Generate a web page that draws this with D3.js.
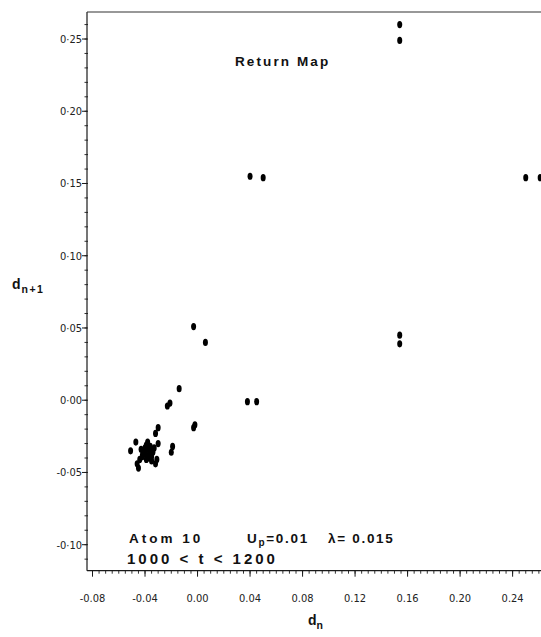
<!DOCTYPE html>
<html>
<head>
<meta charset="utf-8">
<script src="https://cdn.jsdelivr.net/npm/d3@7"></script>
<style>
  body { margin: 0; background: #fff; overflow: hidden; }
  svg { display: block; }
  .tick-label { font-family: "DejaVu Sans Condensed", "Liberation Sans Narrow", sans-serif; font-stretch: condensed; font-size: 11px; fill: #222; }
  .note { font-family: "Liberation Sans", Arial, sans-serif; font-weight: bold; fill: #111; }
</style>
</head>
<body>
<svg id="chart"></svg>
<script>
// return map points (d_n, d_n+1)
const dn = [
  0.154, 0.154, 0.040, 0.050, 0.250, 0.261, 0.154, 0.154,
  -0.003, 0.006, 0.038, 0.045, -0.014, -0.023, -0.021, -0.002, -0.003,
  -0.030, -0.032, -0.019, -0.020,
  -0.051, -0.047, -0.038, -0.030, -0.045, -0.046, -0.032, -0.031, -0.042, -0.040,
  -0.036, -0.043, -0.039, -0.035, -0.044, -0.039, -0.033, -0.036, -0.041, -0.037,
  -0.038, -0.040, -0.034, -0.042, -0.037, -0.035
];
const dnPlus1 = [
  0.260, 0.249, 0.155, 0.154, 0.154, 0.154, 0.045, 0.039,
  0.051, 0.040, -0.001, -0.001, 0.008, -0.004, -0.002, -0.017, -0.019,
  -0.019, -0.023, -0.032, -0.036,
  -0.035, -0.029, -0.029, -0.030, -0.047, -0.044, -0.044, -0.041, -0.038, -0.033,
  -0.035, -0.034, -0.041, -0.039, -0.041, -0.031, -0.033, -0.032, -0.036, -0.038,
  -0.034, -0.037, -0.036, -0.039, -0.040, -0.042
];

// axis ticks
const xTicks = [-0.08, -0.04, 0.00, 0.04, 0.08, 0.12, 0.16, 0.20, 0.24];
const xTickLabels = ["-0.08", "-0.04", "0.00", "0.04", "0.08", "0.12", "0.16", "0.20", "0.24"];
const yTicks = [-0.10, -0.05, 0.00, 0.05, 0.10, 0.15, 0.20, 0.25];
const yTickLabels = ["-0\u00b710", "-0\u00b705", "0\u00b700", "0\u00b705", "0\u00b710", "0\u00b715", "0\u00b720", "0\u00b725"];

const W = 541, H = 637;

const svg = d3.select("#chart")
    .attr("width", W)
    .attr("height", H);

// scales (plot runs off the right edge like the scan)
const x = d3.scaleLinear().domain([-0.0842, 0.27]).range([87, 552]);
const y = d3.scaleLinear().domain([-0.118, 0.2687]).range([570.7, 12]);

const ink = "#1a1a1a";
const x0 = x(-0.0842), yBottom = y(-0.118), yTop = y(0.2687);

// frame: left axis, top border, bottom axis
svg.append("line")
    .attr("x1", x0).attr("x2", x0)
    .attr("y1", yTop).attr("y2", yBottom)
    .attr("stroke", ink).attr("stroke-width", 1.2);
svg.append("line")
    .attr("x1", x0).attr("x2", W)
    .attr("y1", yTop).attr("y2", yTop)
    .attr("stroke", "#333").attr("stroke-width", 1.2);
svg.append("line")
    .attr("x1", x0).attr("x2", W)
    .attr("y1", yBottom).attr("y2", yBottom)
    .attr("stroke", ink).attr("stroke-width", 1.2);

// x minor ticks every 0.005
const xMinor = d3.range(-16, 54).map(i => i * 0.005);
svg.append("g").selectAll("line")
    .data(xMinor)
    .join("line")
    .attr("x1", d => x(d)).attr("x2", d => x(d))
    .attr("y1", yBottom).attr("y2", yBottom + 3)
    .attr("stroke", ink).attr("stroke-width", 0.9);

// x major ticks + labels
const xg = svg.append("g");
xg.selectAll("line")
    .data(xTicks)
    .join("line")
    .attr("x1", d => x(d)).attr("x2", d => x(d))
    .attr("y1", yBottom).attr("y2", yBottom + 6)
    .attr("stroke", ink).attr("stroke-width", 1);
xg.selectAll("text")
    .data(xTicks)
    .join("text")
    .attr("class", "tick-label")
    .attr("x", d => x(d))
    .attr("y", 602)
    .attr("text-anchor", "middle")
    .text((d, i) => xTickLabels[i]);

// y minor ticks every 0.01
const yMinor = d3.range(-11, 27).map(i => i * 0.01);
svg.append("g").selectAll("line")
    .data(yMinor)
    .join("line")
    .attr("x1", x0 - 2.5).attr("x2", x0 + 1)
    .attr("y1", d => y(d)).attr("y2", d => y(d))
    .attr("stroke", ink).attr("stroke-width", 0.9);

// y major ticks + labels
const yg = svg.append("g");
yg.selectAll("line")
    .data(yTicks)
    .join("line")
    .attr("x1", x0 - 5).attr("x2", x0)
    .attr("y1", d => y(d)).attr("y2", d => y(d))
    .attr("stroke", ink).attr("stroke-width", 1);
yg.selectAll("text")
    .data(yTicks)
    .join("text")
    .attr("class", "tick-label")
    .attr("x", x0 - 5)
    .attr("y", d => y(d) + 4)
    .attr("text-anchor", "end")
    .text((d, i) => yTickLabels[i]);

// points
svg.append("g").selectAll("ellipse")
    .data(dn.map((d, i) => ({ a: d, b: dnPlus1[i] })))
    .join("ellipse")
    .attr("cx", d => x(d.a))
    .attr("cy", d => y(d.b))
    .attr("rx", 2.5)
    .attr("ry", 3.6)
    .attr("fill", "#000");

// axis titles
const xt = svg.append("text").attr("class", "note")
    .attr("x", 308).attr("y", 625).style("font-size", "14px");
xt.append("tspan").text("d");
xt.append("tspan").attr("dy", 4).style("font-size", "10.5px").text("n");

const yt = svg.append("text").attr("class", "note")
    .attr("x", 12).attr("y", 289).style("font-size", "14px");
yt.append("tspan").text("d");
yt.append("tspan").attr("dy", 4).attr("dx", 1).style("font-size", "10.5px")
    .style("letter-spacing", "1.5px").text("n+1");

// annotations
svg.append("text").attr("class", "note")
    .attr("x", 235).attr("y", 66)
    .style("font-size", "13.5px").style("letter-spacing", "2.1px")
    .text("Return Map");

svg.append("text").attr("class", "note")
    .attr("x", 129).attr("y", 543)
    .style("font-size", "13.5px").style("letter-spacing", "3px")
    .text("Atom 10");

const up = svg.append("text").attr("class", "note")
    .attr("x", 247).attr("y", 543)
    .style("font-size", "13.5px").style("letter-spacing", "1.7px");
up.append("tspan").text("U");
up.append("tspan").attr("dy", 3).style("font-size", "10px").text("p");
up.append("tspan").attr("dy", -3).text("=0.01");

svg.append("text").attr("class", "note")
    .attr("x", 328).attr("y", 543)
    .style("font-size", "13.5px").style("letter-spacing", "1.7px")
    .text("\u03bb= 0.015");

svg.append("text").attr("class", "note")
    .attr("x", 127).attr("y", 564)
    .style("font-size", "15px").style("letter-spacing", "3px")
    .attr("xml:space", "preserve")
    .text("1000 < t < 1200");
</script>
</body>
</html>
